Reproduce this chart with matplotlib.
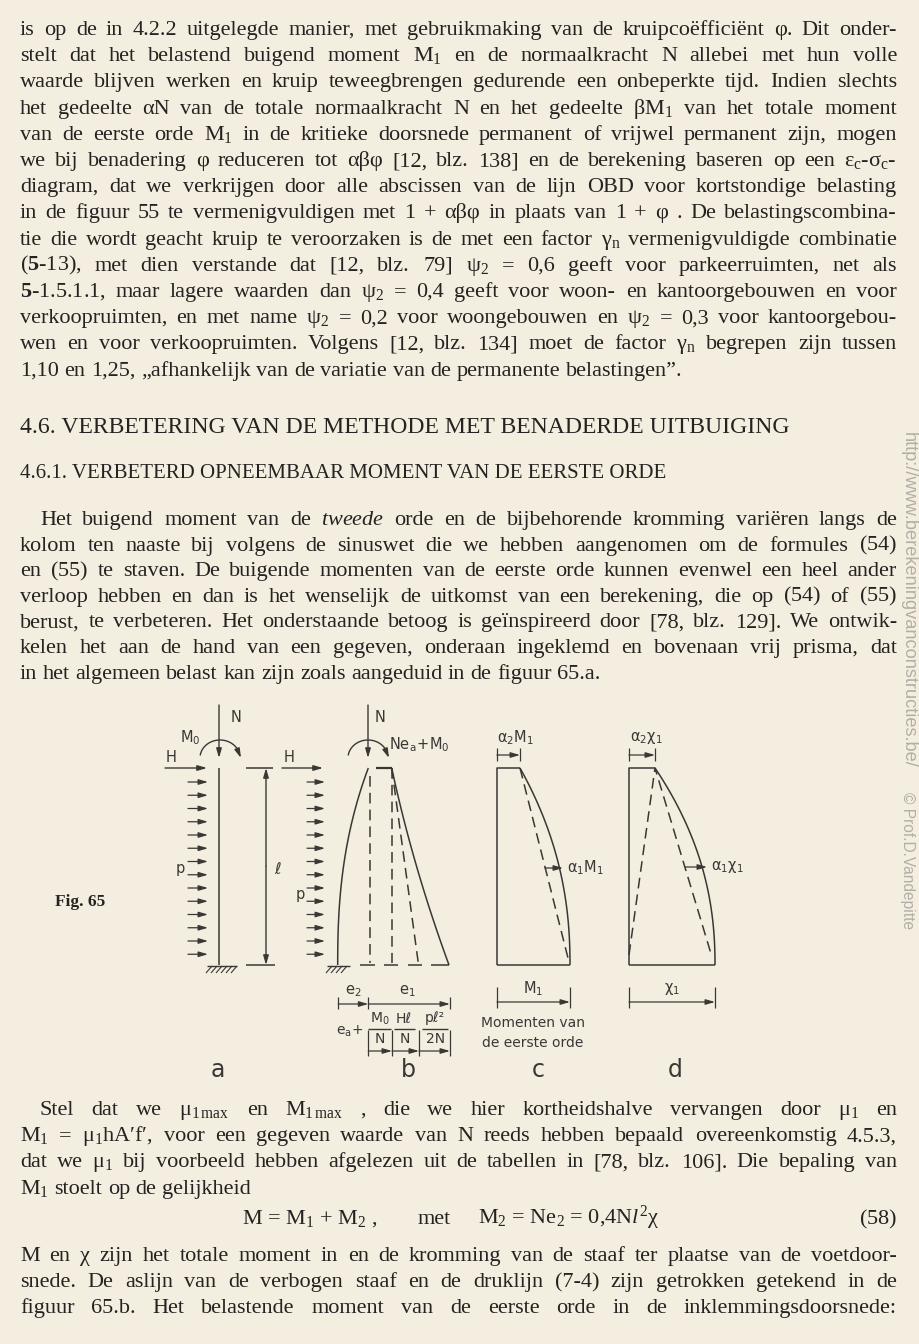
import numpy as np
import matplotlib
matplotlib.use("Agg")
import matplotlib.pyplot as plt

plt.rcParams['mathtext.fontset'] = 'custom'
plt.rcParams['mathtext.rm'] = 'Liberation Serif'
plt.rcParams['mathtext.it'] = 'Liberation Serif:italic'
plt.rcParams['mathtext.bf'] = 'Liberation Serif:bold'

# ---------------------------------------------------------------- text content
PARA1 = [
    "is op de in 4.2.2 uitgelegde manier, met gebruikmaking van de kruipcoëfficiënt φ. Dit onder-",
    "stelt dat het belastend buigend moment M$_1$ en de normaalkracht N allebei met hun volle",
    "waarde blijven werken en kruip teweegbrengen gedurende een onbeperkte tijd. Indien slechts",
    "het gedeelte αN van de totale normaalkracht N en het gedeelte βM$_1$ van het totale moment",
    "van de eerste orde M$_1$ in de kritieke doorsnede permanent of vrijwel permanent zijn, mogen",
    "we bij benadering φ reduceren tot αβφ [12, blz. 138] en de berekening baseren op een ε$_\\mathrm{c}$-σ$_\\mathrm{c}$-",
    "diagram, dat we verkrijgen door alle abscissen van de lijn OBD voor kortstondige belasting",
    "in de figuur 55 te vermenigvuldigen met 1 + αβφ in plaats van 1 + φ . De belastingscombina-",
    "tie die wordt geacht kruip te veroorzaken is de met een factor γ$_\\mathrm{n}$ vermenigvuldigde combinatie",
    "($\\mathbf{5}$-$\\mathit{13}$), met dien verstande dat [12, blz. 79] ψ$_2$ = 0,6 geeft voor parkeerruimten, net als",
    "$\\mathbf{5}$-1.5.1.1, maar lagere waarden dan ψ$_2$ = 0,4 geeft voor woon- en kantoorgebouwen en voor",
    "verkoopruimten, en met name ψ$_2$ = 0,2 voor woongebouwen en ψ$_2$ = 0,3 voor kantoorgebou-",
    "wen en voor verkoopruimten. Volgens [12, blz. 134] moet de factor γ$_\\mathrm{n}$ begrepen zijn tussen",
    "1,10 en 1,25, „afhankelijk van de variatie van de permanente belastingen”.",
]
HEADING = "4.6. VERBETERING VAN DE METHODE MET BENADERDE UITBUIGING"
SUBHEADING = "4.6.1. VERBETERD OPNEEMBAAR MOMENT VAN DE EERSTE ORDE"
PARA2 = [
    "Het buigend moment van de $\\mathit{tweede}$ orde en de bijbehorende kromming variëren langs de",
    "kolom ten naaste bij volgens de sinuswet die we hebben aangenomen om de formules ($\\mathit{54}$)",
    "en ($\\mathit{55}$) te staven. De buigende momenten van de eerste orde kunnen evenwel een heel ander",
    "verloop hebben en dan is het wenselijk de uitkomst van een berekening, die op ($\\mathit{54}$) of ($\\mathit{55}$)",
    "berust, te verbeteren. Het onderstaande betoog is geïnspireerd door [78, blz. 129]. We ontwik-",
    "kelen het aan de hand van een gegeven, onderaan ingeklemd en bovenaan vrij prisma, dat",
    "in het algemeen belast kan zijn zoals aangeduid in de figuur 65.a.",
]
PARA3 = [
    "Stel dat we μ$_{1\\,\\mathrm{max}}$ en M$_{1\\,\\mathrm{max}}$ , die we hier kortheidshalve vervangen door μ$_1$ en",
    "M$_1$ = μ$_1$hA′f′, voor een gegeven waarde van N reeds hebben bepaald overeenkomstig 4.5.3,",
    "dat we μ$_1$ bij voorbeeld hebben afgelezen uit de tabellen in [78, blz. 106]. Die bepaling van",
    "M$_1$ stoelt op de gelijkheid",
]
FORMULA_PARTS = ["M = M$_1$ + M$_2$ ,", "met", "M$_2$ = Ne$_2$ = 0,4N$\\mathit{l}^2$χ"]
FORMULA_TAG = "($\\mathit{58}$)"
PARA4 = [
    "M en χ zijn het totale moment in en de kromming van de staaf ter plaatse van de voetdoor-",
    "snede. De aslijn van de verbogen staaf en de druklijn (7-4) zijn getrokken getekend in de",
    "figuur 65.b. Het belastende moment van de eerste orde in de inklemmingsdoorsnede:",
]
WATERMARK = ["http://www.berekeningvanconstructies.be/", "© Prof.D.Vandepitte"]

# figure labels (mathtext, DejaVu Sans math font)
LAB_A = dict(N="N", M=r"$\mathrm{M_0}$", H="H", p="p", l="ℓ")
LAB_B = dict(N="N", M=r"$\mathrm{Ne_a\!+\!M_0}$", H="H", p="p")
LAB_C = [r"$\mathrm{\alpha_2M_1}$", r"$\mathrm{\alpha_1M_1}$", r"$\mathrm{M_1}$",
         "Momenten van", "de eerste orde"]
LAB_D = [r"$\mathrm{\alpha_2\chi_1}$", r"$\mathrm{\alpha_1\chi_1}$", r"$\mathrm{\chi_1}$"]
LAB_DIM = [r"$\mathrm{e_2}$", r"$\mathrm{e_1}$", r"$\mathrm{e_a\!+}$",
           r"$\mathrm{M_0}$", "N", "Hℓ", "N", "pℓ²", "2N"]
PANEL = ["a", "b", "c", "d"]

# ---------------------------------------------------------------- style
BG = '#f4eee1'
INK = '#252321'
FIG_INK = '#3a3835'
WM = '#b3aea6'
SERIF = 'Liberation Serif'
SANS = 'DejaVu Sans'
FS = 16.0
STEP = 26.2

fig = plt.figure(figsize=(9.2, 13.44), dpi=100)
fig.patch.set_facecolor(BG)
ax = fig.add_axes([0, 0, 1, 1])
ax.set_xlim(0, 920)
ax.set_ylim(1344, 0)
ax.axis('off')
ax.set_facecolor(BG)
R = fig.canvas.get_renderer()


def width(t):
    return t.get_window_extent(renderer=R).width


def place_line(line, yc, x0=20, x1=897, justify=True, fs=FS):
    words = [w for w in line.split(' ') if w]
    base = yc + 5
    ts = [ax.text(x0, base, w, fontsize=fs, family=SERIF, color=INK,
                  va='baseline', ha='left') for w in words]
    ws = [width(t) for t in ts]
    n = len(ws)
    space = fs * 100 / 72 * 0.25
    if justify and n > 1:
        min_gap = 0.8 * space
        if sum(ws) + min_gap * (n - 1) > (x1 - x0):
            k = (x1 - x0 - min_gap * (n - 1)) / sum(ws)
            for t in ts:
                t.set_fontsize(fs * k)
            ws = [width(t) for t in ts]
        gap = (x1 - x0 - sum(ws)) / (n - 1)
    else:
        gap = space
    x = x0
    for t, w in zip(ts, ws):
        t.set_x(x)
        x += w + gap


def fit_text(s, x, yb, target, fs0, **kw):
    t = ax.text(x, yb, s, fontsize=fs0, **kw)
    w = width(t)
    t.set_fontsize(fs0 * target / w)
    return t


# paragraph 1
for i, ln in enumerate(PARA1):
    place_line(ln, 30 + STEP * i, justify=(i < len(PARA1) - 1))

fit_text(HEADING, 20, 433, 776, 15, family=SERIF, color=INK, va='baseline')
fit_text(SUBHEADING, 20, 478, 641, 13, family=SERIF, color=INK, va='baseline')

for i, ln in enumerate(PARA2):
    place_line(ln, 520 + 25.6 * i, x0=(40 if i == 0 else 20),
               justify=(i < len(PARA2) - 1))

for i, ln in enumerate(PARA3):
    place_line(ln, 1110 + STEP * i, x0=(40 if i == 0 else 20),
               justify=(i < len(PARA3) - 1))

fx = [242, 418, 478]
for s, x in zip(FORMULA_PARTS, fx):
    ax.text(x, 1224, s, fontsize=FS, family=SERIF, color=INK, va='baseline', ha='left')
ax.text(897, 1224, FORMULA_TAG, fontsize=FS, family=SERIF, color=INK, va='baseline', ha='right')

for i, ln in enumerate(PARA4):
    place_line(ln, 1256 + STEP * i, justify=True)

# watermark
t = ax.text(908, 432, WATERMARK[0], rotation=-90, rotation_mode='anchor', ha='left',
            va='center', fontsize=11, family='Liberation Sans', color=WM)
h = t.get_window_extent(renderer=R).height
wm_fs = 11 * 336 / h
t.set_fontsize(wm_fs)
t2 = ax.text(908, 792, WATERMARK[1], rotation=-90, rotation_mode='anchor', ha='left',
             va='center', fontsize=wm_fs, family=['Liberation Sans Narrow', 'Liberation Sans'],
             color=WM)
h2 = t2.get_window_extent(renderer=R).height
if h2 > 122:
    t2.set_fontsize(wm_fs * max(122 / h2, 0.85))

# ---------------------------------------------------------------- figure 65
TOP, BASE = 768, 965
DASH = (0, (7, 4))


def seg(xs, ys, ls='-', lw=1.1):
    ax.plot(xs, ys, color=FIG_INK, lw=lw, ls=ls, solid_capstyle='butt',
            dash_capstyle='butt')


def arr(x0, y0, x1, y1, lw=1.0):
    ax.annotate('', xy=(x1, y1), xytext=(x0, y0),
                arrowprops=dict(arrowstyle='-|>,head_length=0.55,head_width=0.16',
                                lw=lw, color=FIG_INK, shrinkA=0, shrinkB=0))


def lab(x, y, s, fs=10.5, ha='center'):
    ax.text(x, y, s, fontsize=fs, family=SANS, color=FIG_INK, ha=ha, va='center',
            math_fontfamily='dejavusans')


def hatch(x0, x1, y):
    seg([x0, x1], [y, y], lw=1.0)
    for x in np.arange(x0 + 5, x1 + 1, 5):
        seg([x, x - 6], [y, y + 7], lw=0.8)


def moment_arc(cx):
    th = np.radians(np.linspace(172, 32, 40))
    xs = cx + 20 * np.cos(th)
    ys = 758 - 18 * np.sin(th)
    seg(xs, ys, lw=1.0)
    arr(xs[-1], ys[-1], cx + 21, 758)


P_ROWS = 782 + 13.25 * np.arange(14)

# --- a
arr(219, 705, 219, 758)
moment_arc(220)
arr(165, TOP, 207, TOP)
for y in P_ROWS:
    arr(188, y, 208, y, lw=0.9)
seg([219, 219], [TOP, BASE])
hatch(207, 237, BASE + 1)
seg([246, 273], [TOP, TOP])
seg([246, 275], [BASE, BASE])
arr(266, 866, 266, TOP)
arr(266, 866, 266, BASE)
lab(231, 717, LAB_A['N'], ha='left')
lab(190, 738, LAB_A['M'])
lab(171, 758, LAB_A['H'])
lab(180, 869, LAB_A['p'])
lab(278, 870, LAB_A['l'], fs=11.5)

# --- b
arr(368, 705, 368, 758)
moment_arc(368)
arr(282, TOP, 323, TOP)
for y in P_ROWS:
    arr(307, y, 325, y, lw=0.9)
yy = np.linspace(TOP, BASE, 80)
u = (BASE - yy) / (BASE - TOP)
seg(337.7 + 30.6 * u ** 2.4, yy)
hatch(327, 350, BASE + 1)
seg([370, 370], [TOP + 8, BASE - 2], ls=DASH)
seg([391.7, 391.7], [TOP, BASE - 2], ls=DASH)
seg([391.7, 418.3], [TOP, BASE - 2], ls=DASH)
seg([376, 391.7], [TOP, TOP], lw=1.6)
tt = (yy - TOP) / (BASE - TOP)
seg(391.7 + 57.3 * (0.74 * tt + 0.26 * tt ** 2), yy)
for a0, a1 in [(360, 375), (384, 398), (408, 422), (431, 449)]:
    seg([a0, a1], [BASE, BASE])
lab(375, 717, LAB_B['N'], ha='left')
lab(389, 745, LAB_B['M'], ha='left')
lab(289, 758, LAB_B['H'])
lab(300, 894, LAB_B['p'])

# dimensions under b
for x in [338.3, 368.3, 450]:
    seg([x, x], [997, 1009], lw=0.9)
arr(338.3, 1004, 368.3, 1004, lw=0.9)
arr(368.3, 1004, 450, 1004, lw=0.9)
lab(353, 991, LAB_DIM[0])
lab(407, 991, LAB_DIM[1])
lab(350, 1031, LAB_DIM[2], fs=10)
lab(380, 1019, LAB_DIM[3], fs=10)
lab(380, 1039, LAB_DIM[4], fs=10)
lab(404, 1019, LAB_DIM[5], fs=10)
lab(405, 1039, LAB_DIM[6], fs=10)
lab(435, 1018, LAB_DIM[7], fs=10)
lab(436, 1039, LAB_DIM[8], fs=10)
for b0, b1 in [(368, 391), (394, 415), (422, 448)]:
    seg([b0, b1], [1028.5, 1028.5], lw=1.0)
for x in [368.3, 392, 419, 450]:
    seg([x, x], [1030, 1056], lw=0.9)
for a0, a1 in [(368.3, 392), (392, 419), (419, 450)]:
    arr(a0, 1051, a1, 1051, lw=0.9)

# --- c
seg([497, 497], [748, 761], lw=0.9)
seg([520, 520], [748, 761], lw=0.9)
arr(497, 755, 520, 755, lw=0.9)
seg([497, 497, 520], [BASE, TOP, TOP])
seg([497, 570], [BASE, BASE])
seg([520, 568], [TOP, 958], ls=DASH)
seg(520 + 50 * (1 - (1 - tt) ** 2.2), yy)
arr(545, 868, 563, 868, lw=0.9)
seg([497, 497], [987, 1008], lw=0.9)
seg([570, 570], [987, 1008], lw=0.9)
arr(497, 1002, 570, 1002, lw=0.9)
lab(516, 738, LAB_C[0])
lab(567, 868, LAB_C[1], ha='left')
lab(533, 989, LAB_C[2])
lab(533, 1023, LAB_C[3], fs=10)
lab(533, 1043, LAB_C[4], fs=10)

# --- d
seg([629, 629], [748, 761], lw=0.9)
seg([655, 655], [748, 761], lw=0.9)
arr(629, 755, 655, 755, lw=0.9)
seg([629, 629, 655], [BASE, TOP, TOP])
seg([629, 715], [BASE, BASE])
seg([629, 655, 712], [955, TOP, 957], ls=DASH)
seg(655 + 60 * (1 - (1 - tt) ** 2.2), yy)
arr(685, 867, 707, 867, lw=0.9)
seg([629, 629], [987, 1008], lw=0.9)
seg([715, 715], [987, 1008], lw=0.9)
arr(629, 1002, 715, 1002, lw=0.9)
lab(646, 738, LAB_D[0])
lab(711, 867, LAB_D[1], ha='left')
lab(672, 989, LAB_D[2])

for s, x in zip(PANEL, [218, 408, 538, 675]):
    lab(x, 1070, s, fs=17)

ax.text(55, 902, "Fig. 65", fontsize=12.5, family=SERIF, weight='bold', color=INK,
        ha='left', va='center')

fig.savefig("out.png", dpi=100, facecolor=BG)
